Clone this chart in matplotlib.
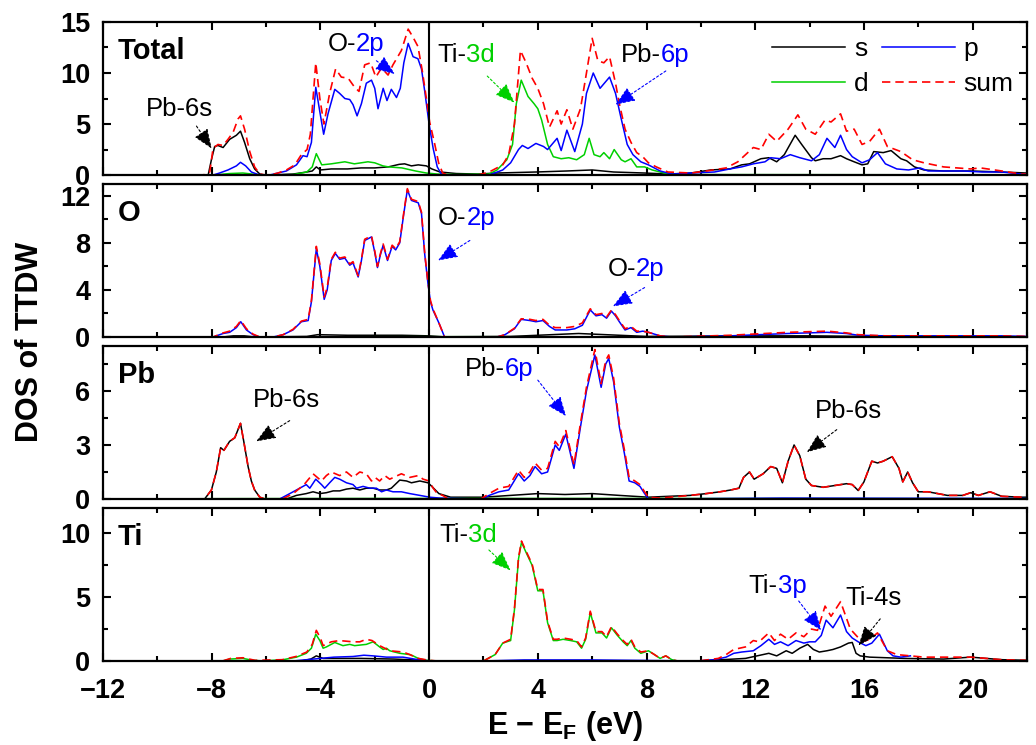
import numpy as np
import matplotlib
matplotlib.use("Agg")
import matplotlib.pyplot as plt
from matplotlib.ticker import MultipleLocator

plt.rcParams['font.family'] = ['Liberation Sans', 'DejaVu Sans']
plt.rcParams['mathtext.fontset'] = 'custom'
plt.rcParams['mathtext.rm'] = 'Liberation Sans'
plt.rcParams['mathtext.bf'] = 'Liberation Sans:bold'

# (E - EF, DOS) points
total_s = [(-12, 0), (-8.13, 0), (-8.01, 1.5), (-7.89, 2.8), (-7.77, 2.9), (-7.58, 2.7), (-7.34, 3.5),
           (-7.09, 3.9), (-6.94, 4.3), (-6.79, 3.2), (-6.6, 1.6), (-6.42, 0.6), (-6.23, 0.1), (-6.05, 0),
           (-5.9, 0), (-5.0, 0.1), (-4.5, 0.3), (-4.3, 0.4), (-4.15, 0.8), (-4.0, 0.5), (-3.6, 0.6),
           (-3.0, 0.6), (-2.5, 0.7), (-2.0, 0.7), (-1.5, 0.8), (-1.1, 1.05), (-0.9, 1.1), (-0.65, 0.9),
           (-0.4, 1.0), (-0.1, 0.9), (0.1, 0.6), (0.4, 0.3), (1.0, 0.15), (1.8, 0.1), (2.5, 0.2),
           (3.93, 0.3), (5.07, 0.4), (6.0, 0.5), (6.79, 0.3), (7.93, 0.2), (8.79, 0.1), (9.64, 0.2),
           (10.36, 0.5), (11.07, 0.6), (11.5, 1.0), (11.79, 1.1), (12.21, 1.6), (12.5, 1.7), (12.79, 1.3),
           (13.07, 2.0), (13.47, 3.9), (13.71, 3.0), (14.07, 1.7), (14.21, 1.4), (14.5, 1.6), (14.79, 1.6),
           (15.14, 1.9), (15.36, 1.6), (15.64, 1.3), (15.93, 1.0), (16.14, 1.1), (16.36, 2.3), (16.71, 2.2),
           (17.0, 2.4), (17.36, 1.6), (17.57, 1.4), (17.86, 0.8), (18.21, 0.5), (18.93, 0.4), (19.93, 0.4),
           (21.07, 0.3), (22, 0.2)]
total_p = [(-12, 0), (-7.95, 0), (-7.71, 0.2), (-7.4, 0.5), (-7.09, 0.9), (-6.94, 1.25), (-6.75, 0.9),
           (-6.54, 0.3), (-6.29, 0.05), (-5.87, 0), (-5.56, 0.2), (-5.25, 0.4), (-4.88, 1.0), (-4.64, 1.9),
           (-4.49, 1.8), (-4.33, 3.2), (-4.17, 8.6), (-4.02, 6.2), (-3.88, 4.0), (-3.72, 6.0), (-3.47, 8.4),
           (-3.29, 8.0), (-3.1, 7.5), (-2.92, 7.4), (-2.8, 6.9), (-2.65, 5.8), (-2.49, 7.0), (-2.31, 9.0),
           (-2.12, 9.3), (-2.0, 8.5), (-1.88, 6.5), (-1.69, 8.5), (-1.55, 7.3), (-1.39, 8.4), (-1.2, 7.6),
           (-1.06, 8.5), (-0.93, 11.0), (-0.77, 12.9), (-0.59, 11.6), (-0.41, 11.4), (-0.28, 10.4),
           (-0.16, 8.2), (0.0, 5.0), (0.15, 2.6), (0.3, 0.8), (0.45, 0.1), (0.6, 0), (2.21, 0), (2.71, 0.5),
           (3.0, 1.2), (3.29, 2.5), (3.43, 2.9), (3.64, 2.6), (3.93, 3.1), (4.21, 2.8), (4.36, 2.5),
           (4.71, 3.6), (4.86, 2.4), (5.07, 4.4), (5.36, 2.3), (5.64, 5.0), (5.79, 8.0), (6.04, 10.0),
           (6.29, 8.5), (6.64, 9.6), (6.86, 8.0), (7.07, 5.5), (7.29, 3.0), (7.5, 2.0), (7.79, 1.3),
           (8.07, 1.0), (8.5, 0.4), (8.93, 0.1), (9.64, 0.2), (10.5, 0.3), (11.07, 0.6), (11.5, 0.8),
           (11.93, 1.1), (12.36, 1.3), (12.57, 1.7), (12.93, 1.6), (13.29, 2.0), (13.64, 1.7), (14.07, 1.4),
           (14.36, 2.0), (14.64, 3.6), (14.93, 2.7), (15.14, 3.9), (15.36, 2.5), (15.57, 1.8), (15.93, 1.2),
           (16.21, 1.5), (16.5, 2.2), (16.79, 1.1), (17.21, 0.6), (17.64, 0.5), (18.07, 0.7), (18.36, 0.4),
           (19.64, 0.4), (20.36, 0.3), (21.07, 0.3), (21.79, 0.1), (22, 0.1)]
total_d = [(-12, 0), (-7.95, 0), (-7.34, 0.15), (-6.85, 0.2), (-6.36, 0.05), (-6.0, 0), (-5.0, 0.05),
           (-4.5, 0.3), (-4.3, 0.8), (-4.15, 2.1), (-3.95, 1.0), (-3.6, 1.1), (-3.1, 1.3), (-2.75, 1.1),
           (-2.25, 1.3), (-2.0, 1.2), (-1.7, 0.9), (-1.5, 0.8), (-1.0, 0.7), (-0.5, 0.4), (-0.1, 0.2),
           (0.3, 0.1), (1.0, 0.05), (2.2, 0.1), (2.5, 0.5), (2.86, 1.5), (3.07, 3.0), (3.21, 7.0),
           (3.39, 9.3), (3.64, 7.7), (3.86, 7.0), (4.0, 6.5), (4.14, 5.4), (4.36, 3.0), (4.57, 1.8),
           (4.86, 1.6), (5.14, 1.7), (5.43, 1.5), (5.71, 2.0), (5.89, 3.6), (6.07, 2.0), (6.29, 1.8),
           (6.43, 2.2), (6.64, 1.6), (6.81, 2.5), (7.07, 1.5), (7.21, 1.3), (7.43, 1.6), (7.64, 0.8),
           (7.93, 0.8), (8.21, 0.5), (8.64, 0.2), (9.07, 0.05), (22, 0.02)]
total_sum = [(-12, 0), (-8.32, 0), (-8.07, 0.3), (-7.95, 2.6), (-7.77, 3.0), (-7.58, 2.9), (-7.4, 3.5),
             (-7.21, 4.2), (-7.03, 5.5), (-6.94, 5.8), (-6.79, 4.5), (-6.6, 2.3), (-6.42, 0.8), (-6.23, 0.1),
             (-5.99, 0), (-5.87, 0), (-5.56, 0.2), (-5.25, 0.5), (-4.94, 1.0), (-4.7, 2.0), (-4.49, 2.5),
             (-4.37, 4.0), (-4.17, 11.0), (-4.02, 7.5), (-3.87, 5.0), (-3.66, 8.0), (-3.44, 10.4),
             (-3.23, 9.6), (-2.98, 9.5), (-2.74, 8.6), (-2.58, 8.2), (-2.37, 10.8), (-2.15, 11.0),
             (-1.96, 9.6), (-1.75, 10.5), (-1.51, 9.8), (-1.33, 10.8), (-1.02, 12.2), (-0.77, 14.3),
             (-0.59, 13.5), (-0.41, 12.6), (-0.25, 10.2), (-0.1, 7.5), (0.02, 5.2), (0.21, 3.0),
             (0.35, 1.2), (0.5, 0.2), (0.7, 0), (1.79, 0), (2.21, 0.3), (2.71, 1.0), (2.93, 2.0),
             (3.14, 5.0), (3.36, 12.2), (3.57, 11.0), (3.79, 9.5), (4.0, 8.5), (4.21, 7.0), (4.43, 4.7),
             (4.71, 6.3), (4.86, 5.0), (5.07, 6.4), (5.29, 4.5), (5.57, 6.5), (5.79, 10.0), (6.0, 13.4),
             (6.21, 11.2), (6.43, 11.0), (6.64, 11.6), (6.86, 9.0), (7.0, 7.0), (7.21, 4.5), (7.43, 3.2),
             (7.64, 2.2), (7.86, 1.8), (8.07, 1.2), (8.36, 0.8), (8.79, 0.3), (9.64, 0.2), (10.21, 0.4),
             (10.93, 0.7), (11.36, 1.3), (11.93, 2.7), (12.21, 2.5), (12.5, 4.0), (12.79, 3.3),
             (13.21, 4.5), (13.57, 5.9), (13.86, 4.5), (14.21, 4.0), (14.57, 5.4), (14.79, 5.2),
             (15.14, 6.0), (15.36, 4.3), (15.64, 4.5), (15.93, 3.0), (16.21, 3.3), (16.57, 4.5),
             (16.86, 2.8), (17.36, 2.3), (17.79, 1.5), (18.21, 1.2), (18.93, 0.8), (19.93, 0.6),
             (20.29, 0.7), (21.07, 0.4), (21.79, 0.1), (22, 0.1)]

o_s = [(-12, 0), (-7.6, 0), (-7.2, 0.1), (-6.8, 0.1), (-6.4, 0), (-4.5, 0.05), (-4.1, 0.2), (-3.0, 0.15),
       (-1.0, 0.15), (0.0, 0.1), (0.5, 0.02), (3.0, 0.05), (4.5, 0.2), (5.5, 0.3), (6.5, 0.2), (8.0, 0.05),
       (12.0, 0.1), (14.0, 0.1), (16.0, 0.05), (22, 0.02)]
o_p = [(-12, 0), (-7.95, 0), (-7.58, 0.3), (-7.34, 0.4), (-7.09, 0.8), (-6.93, 1.3), (-6.72, 0.6),
       (-6.48, 0.2), (-6.23, 0), (-5.74, 0), (-5.37, 0.2), (-5.01, 0.6), (-4.7, 1.3), (-4.45, 1.4),
       (-4.33, 3.0), (-4.15, 7.5), (-4.02, 6.0), (-3.86, 3.2), (-3.75, 4.0), (-3.6, 6.5), (-3.45, 7.1),
       (-3.29, 6.6), (-3.1, 6.7), (-2.92, 6.1), (-2.8, 6.3), (-2.61, 5.1), (-2.49, 6.5), (-2.37, 8.2),
       (-2.12, 8.5), (-2.0, 7.2), (-1.9, 5.9), (-1.79, 7.0), (-1.69, 7.8), (-1.53, 6.5), (-1.36, 7.7),
       (-1.23, 7.4), (-1.08, 8.0), (-0.93, 10.5), (-0.8, 12.5), (-0.65, 11.6), (-0.4, 11.4),
       (-0.28, 10.5), (-0.16, 7.0), (-0.04, 4.5), (0.05, 3.0), (0.14, 2.3), (0.36, 1.2), (0.57, 0),
       (2.5, 0), (2.79, 0.2), (3.14, 0.7), (3.39, 1.5), (3.71, 1.4), (3.93, 1.3), (4.19, 1.4), (4.43, 0.9),
       (4.64, 0.6), (5.07, 0.6), (5.36, 0.7), (5.64, 1.0), (5.93, 2.3), (6.14, 1.8), (6.36, 1.9),
       (6.53, 1.6), (6.71, 2.2), (6.86, 1.8), (7.0, 1.3), (7.21, 0.6), (7.43, 0.8), (7.64, 0.4),
       (7.86, 0.5), (8.07, 0.4), (8.5, 0.1), (8.93, 0), (11.07, 0.1), (13.21, 0.3), (14.64, 0.4),
       (15.36, 0.3), (15.79, 0.15), (16.79, 0.1), (21.07, 0.1), (22, 0.05)]
o_d = [(-12, 0), (-4.2, 0.02), (0, 0.03), (6, 0.02), (22, 0.0)]
o_sum = [(-12, 0), (-7.95, 0), (-7.58, 0.35), (-7.34, 0.5), (-7.09, 0.9), (-6.93, 1.4), (-6.72, 0.7),
         (-6.48, 0.25), (-6.23, 0), (-5.74, 0), (-5.37, 0.2), (-5.01, 0.65), (-4.7, 1.35), (-4.45, 1.5),
         (-4.33, 3.1), (-4.15, 7.7), (-4.02, 6.2), (-3.86, 3.4), (-3.75, 4.2), (-3.6, 6.6), (-3.45, 7.2),
         (-3.29, 6.7), (-3.1, 6.8), (-2.92, 6.2), (-2.8, 6.4), (-2.61, 5.2), (-2.49, 6.6), (-2.37, 8.3),
         (-2.12, 8.6), (-2.0, 7.3), (-1.9, 6.0), (-1.79, 7.1), (-1.69, 7.9), (-1.53, 6.6), (-1.36, 7.8),
         (-1.23, 7.5), (-1.08, 8.1), (-0.93, 10.6), (-0.8, 12.6), (-0.65, 11.7), (-0.4, 11.5),
         (-0.28, 10.6), (-0.16, 7.1), (-0.04, 4.6), (0.05, 3.1), (0.14, 2.4), (0.36, 1.2), (0.57, 0),
         (2.5, 0), (2.79, 0.2), (3.14, 0.75), (3.39, 1.55), (3.71, 1.5), (3.93, 1.4), (4.19, 1.5),
         (4.43, 1.0), (4.64, 0.8), (5.07, 0.8), (5.36, 0.9), (5.64, 1.2), (5.93, 2.4), (6.14, 1.9),
         (6.36, 2.0), (6.53, 1.7), (6.71, 2.3), (6.86, 1.9), (7.0, 1.4), (7.21, 0.7), (7.43, 0.9),
         (7.64, 0.5), (7.86, 0.5), (8.07, 0.4), (8.5, 0.1), (8.93, 0), (11.07, 0.15), (13.21, 0.4),
         (14.64, 0.5), (15.36, 0.35), (15.79, 0.2), (16.79, 0.1), (21.07, 0.1), (22, 0.05)]

pb_s = [(-12, 0), (-8.26, 0), (-8.01, 0.5), (-7.83, 1.5), (-7.67, 2.85), (-7.55, 2.7), (-7.34, 3.2),
        (-7.15, 3.4), (-6.94, 4.2), (-6.82, 3.2), (-6.66, 1.8), (-6.54, 1.0), (-6.42, 0.5), (-6.23, 0.1),
        (-6.05, 0), (-5.25, 0), (-4.88, 0.2), (-4.52, 0.3), (-4.27, 0.4), (-4.02, 0.3), (-3.78, 0.35),
        (-3.53, 0.45), (-3.29, 0.45), (-3.04, 0.55), (-2.8, 0.6), (-2.55, 0.5), (-2.31, 0.6),
        (-2.06, 0.6), (-1.82, 0.5), (-1.57, 0.5), (-1.39, 0.6), (-1.08, 1.05), (-0.83, 1.0),
        (-0.65, 0.9), (-0.34, 1.0), (-0.04, 0.9), (0.1, 0.7), (0.36, 0.3), (0.79, 0.1), (2.0, 0.1),
        (3.0, 0.2), (4.0, 0.3), (5.0, 0.25), (6.0, 0.3), (7.0, 0.2), (8.07, 0.1), (9.6, 0.2),
        (10.2, 0.3), (10.7, 0.4), (11.1, 0.5), (11.4, 0.6), (11.57, 1.2), (11.79, 1.5), (11.96, 1.1),
        (12.29, 1.4), (12.57, 1.8), (12.79, 1.7), (13.0, 0.9), (13.21, 2.1), (13.43, 3.0), (13.64, 2.4),
        (13.86, 1.1), (14.07, 0.75), (14.5, 0.65), (14.93, 0.75), (15.36, 0.85), (15.57, 0.8),
        (15.79, 0.47), (16.0, 0.95), (16.29, 2.1), (16.5, 2.0), (16.71, 2.1), (17.04, 2.35),
        (17.29, 1.7), (17.43, 0.95), (17.61, 1.5), (17.79, 0.9), (18.0, 0.4), (18.36, 0.4),
        (19.07, 0.2), (19.64, 0.2), (19.93, 0.35), (20.21, 0.2), (20.64, 0.4), (21.07, 0.15),
        (21.79, 0.1), (22, 0.1)]
pb_p = [(-12, 0), (-5.5, 0), (-5.25, 0.2), (-4.88, 0.5), (-4.52, 0.8), (-4.39, 0.6), (-4.17, 1.1),
        (-3.96, 0.8), (-3.84, 0.6), (-3.66, 0.9), (-3.47, 1.2), (-3.29, 1.1), (-3.04, 0.9), (-2.8, 0.8),
        (-2.67, 0.6), (-2.43, 0.7), (-2.18, 0.6), (-1.94, 0.6), (-1.75, 0.4), (-1.57, 0.5), (-1.33, 0.4),
        (-1.02, 0.4), (-0.71, 0.3), (-0.34, 0.2), (0.02, 0.1), (0.4, 0.05), (1.93, 0), (2.21, 0.2),
        (2.57, 0.4), (2.93, 0.5), (3.29, 1.4), (3.5, 1.0), (3.71, 1.3), (3.9, 1.8), (4.14, 1.4),
        (4.36, 1.5), (4.64, 3.0), (4.79, 2.7), (5.03, 3.6), (5.33, 1.7), (5.57, 4.0), (5.79, 6.0),
        (6.1, 8.0), (6.33, 6.2), (6.5, 7.5), (6.61, 7.8), (6.79, 6.5), (7.0, 4.0), (7.19, 2.5),
        (7.36, 1.0), (7.57, 0.9), (7.76, 0.7), (7.93, 0.3), (8.07, 0), (13.0, 0.05), (22, 0.03)]
pb_d = [(-12, 0), (-7, 0.02), (-2, 0.03), (5, 0.03), (22, 0.02)]
pb_sum = [(-12, 0), (-8.26, 0), (-8.01, 0.5), (-7.83, 1.5), (-7.67, 2.85), (-7.55, 2.7), (-7.34, 3.2),
          (-7.15, 3.4), (-6.94, 4.2), (-6.82, 3.2), (-6.66, 1.8), (-6.54, 1.0), (-6.42, 0.5), (-6.23, 0.1),
          (-6.05, 0), (-5.4, 0), (-5.0, 0.3), (-4.6, 0.8), (-4.27, 1.4), (-3.96, 1.0), (-3.78, 1.3),
          (-3.6, 1.5), (-3.29, 1.3), (-3.04, 1.5), (-2.8, 1.2), (-2.55, 1.5), (-2.31, 1.4), (-2.12, 1.0),
          (-1.99, 1.2), (-1.82, 1.0), (-1.63, 1.3), (-1.45, 1.1), (-1.02, 1.4), (-0.71, 1.2), (-0.4, 1.3),
          (-0.22, 1.1), (0.0, 1.0), (0.15, 0.6), (0.3, 0.3), (0.5, 0.2), (0.7, 0), (1.9, 0), (2.21, 0.3),
          (2.57, 0.6), (2.93, 0.7), (3.29, 1.6), (3.5, 1.2), (3.71, 1.5), (3.9, 2.0), (4.14, 1.6),
          (4.36, 1.7), (4.64, 3.2), (4.79, 2.9), (5.03, 3.8), (5.33, 1.9), (5.57, 4.2), (5.79, 6.2),
          (6.1, 8.3), (6.33, 6.4), (6.5, 7.7), (6.61, 8.0), (6.79, 6.7), (7.0, 4.2), (7.19, 2.7),
          (7.36, 1.2), (7.57, 1.0), (7.76, 0.8), (7.93, 0.4), (8.07, 0.1), (8.5, 0.05), (9.6, 0.2),
          (10.2, 0.3), (10.7, 0.4), (11.1, 0.5), (11.4, 0.6), (11.57, 1.2), (11.79, 1.5), (11.96, 1.1),
          (12.29, 1.4), (12.57, 1.8), (12.79, 1.7), (13.0, 0.9), (13.21, 2.1), (13.43, 3.0), (13.64, 2.4),
          (13.86, 1.1), (14.07, 0.75), (14.5, 0.65), (14.93, 0.75), (15.36, 0.85), (15.57, 0.8),
          (15.79, 0.47), (16.0, 0.95), (16.29, 2.1), (16.5, 2.0), (16.71, 2.1), (17.04, 2.35),
          (17.29, 1.7), (17.43, 0.95), (17.61, 1.5), (17.79, 0.9), (18.0, 0.4), (18.36, 0.4),
          (19.07, 0.2), (19.64, 0.2), (19.93, 0.35), (20.21, 0.2), (20.64, 0.4), (21.07, 0.15),
          (21.79, 0.1), (22, 0.1)]

ti_s = [(-12, 0), (-4.7, 0), (-4.35, 0.15), (-4.15, 0.4), (-3.9, 0.2), (-3.2, 0.2), (-2.5, 0.2),
        (-1.3, 0.15), (-0.2, 0.05), (0, 0), (9.93, 0), (10.79, 0.1), (11.64, 0.2), (12.07, 0.4),
        (12.5, 0.6), (12.79, 0.4), (13.14, 0.8), (13.36, 0.6), (13.64, 1.0), (13.93, 1.3), (14.14, 0.9),
        (14.36, 0.7), (14.64, 0.8), (14.86, 0.9), (15.14, 1.1), (15.43, 1.4), (15.57, 1.45),
        (15.71, 0.6), (15.86, 0.4), (16.21, 0.3), (17.5, 0.2), (18.93, 0.15), (19.93, 0.3),
        (21.07, 0.1), (22, 0.05)]
ti_p = [(-12, 0), (-5.0, 0), (-4.5, 0.1), (-4.0, 0.2), (-3.5, 0.3), (-2.8, 0.35), (-2.4, 0.45),
        (-2.06, 0.4), (-1.57, 0.3), (-0.96, 0.3), (-0.4, 0.1), (0, 0), (2.0, 0), (3.5, 0.08), (6.0, 0.08),
        (9.9, 0), (10.5, 0.1), (10.93, 0.3), (11.21, 0.6), (11.5, 0.7), (11.93, 0.8), (12.21, 1.2),
        (12.5, 1.7), (12.71, 1.3), (12.93, 1.5), (13.21, 1.2), (13.5, 1.6), (13.79, 1.4), (14.0, 1.5),
        (14.21, 1.5), (14.43, 2.0), (14.61, 3.2), (14.86, 2.6), (15.14, 3.6), (15.36, 2.3), (15.57, 1.8),
        (15.79, 1.5), (16.07, 1.2), (16.29, 1.4), (16.57, 2.1), (16.86, 0.8), (17.07, 0.4), (17.36, 0.3),
        (17.71, 0.4)]
ti_d = [(-12, 0), (-7.58, 0), (-7.34, 0.15), (-6.85, 0.2), (-6.48, 0.05), (-6.11, 0), (-5.37, 0.1),
        (-4.88, 0.3), (-4.52, 0.6), (-4.33, 1.0), (-4.17, 2.1), (-4.02, 1.6), (-3.9, 1.0), (-3.78, 1.1),
        (-3.47, 1.45), (-3.17, 1.2), (-2.92, 1.3), (-2.74, 1.2), (-2.31, 1.3), (-2.06, 1.5), (-1.82, 1.1),
        (-1.69, 0.9), (-1.57, 1.0), (-1.45, 0.8), (-1.08, 0.6), (-0.71, 0.5), (-0.59, 0.4), (-0.4, 0.2),
        (-0.1, 0.05), (0.3, 0), (2.0, 0), (2.43, 0.5), (2.71, 1.4), (3.0, 1.6), (3.14, 4.0), (3.29, 8.0),
        (3.4, 9.3), (3.57, 8.5), (3.79, 7.5), (4.0, 5.5), (4.19, 5.5), (4.36, 3.0), (4.57, 1.6),
        (4.71, 1.6), (4.93, 1.7), (5.21, 1.6), (5.43, 1.5), (5.61, 1.0), (5.76, 1.7), (5.93, 3.8),
        (6.14, 2.2), (6.36, 2.2), (6.53, 1.8), (6.71, 2.6), (6.93, 2.0), (7.14, 1.5), (7.29, 1.2),
        (7.43, 1.6), (7.57, 1.0), (7.79, 0.6), (8.07, 0.8), (8.29, 0.5), (8.5, 0.2), (8.71, 0.4),
        (8.93, 0.1), (9.14, 0), (22, 0)]
ti_sum = [(-12, 0), (-7.6, 0), (-7.3, 0.2), (-6.85, 0.25), (-6.4, 0.05), (-5.4, 0.1), (-4.9, 0.35),
          (-4.5, 0.7), (-4.3, 1.3), (-4.15, 2.4), (-4.0, 1.8), (-3.9, 1.2), (-3.6, 1.5), (-3.3, 1.6),
          (-2.8, 1.5), (-2.55, 1.5), (-2.31, 1.7), (-2.1, 1.6), (-1.82, 1.2), (-1.45, 0.8), (-0.96, 0.7),
          (-0.71, 0.5), (-0.4, 0.2), (0.0, 0.05), (0.3, 0), (2.0, 0), (2.43, 0.5), (2.71, 1.4), (3.0, 1.7),
          (3.14, 4.1), (3.29, 8.1), (3.4, 9.4), (3.57, 8.6), (3.79, 7.6), (4.0, 5.6), (4.19, 5.6),
          (4.36, 3.1), (4.57, 1.7), (4.71, 1.7), (4.93, 1.8), (5.21, 1.7), (5.43, 1.6), (5.61, 1.1),
          (5.76, 1.8), (5.93, 3.9), (6.14, 2.3), (6.36, 2.3), (6.53, 1.9), (6.71, 2.7), (6.93, 2.1),
          (7.14, 1.6), (7.29, 1.3), (7.43, 1.7), (7.57, 1.1), (7.79, 0.7), (8.07, 0.8), (8.29, 0.5),
          (8.5, 0.2), (8.71, 0.4), (8.93, 0.1), (9.14, 0), (9.93, 0), (10.64, 0.2), (10.93, 0.5),
          (11.21, 0.9), (11.64, 1.1), (11.93, 1.6), (12.14, 1.5), (12.5, 2.2), (12.71, 1.6), (12.93, 2.1),
          (13.21, 1.7), (13.5, 2.2), (13.79, 1.9), (14.07, 2.5), (14.29, 2.4), (14.57, 4.3), (14.79, 3.5),
          (15.14, 4.65), (15.5, 2.5), (15.93, 1.5), (16.21, 1.7), (16.5, 2.2), (16.86, 0.8), (17.21, 0.5),
          (18.21, 0.3), (19.93, 0.3), (21.07, 0.1), (22, 0.05)]

panel_names = ['Total', 'O', 'Pb', 'Ti']
panel_data = [(total_s, total_p, total_d, total_sum), (o_s, o_p, o_d, o_sum),
              (pb_s, pb_p, pb_d, pb_sum), (ti_s, ti_p, ti_d, ti_sum)]
ylims = [15, 13, 8.5, 12]
ymajor = [5, 4, 3, 5]
yminor = [2.5, 2, 1.5, 2.5]

colors = ['black', '#0000ff', '#00d000', '#ff0000']

fig, axes = plt.subplots(4, 1, sharex=True, figsize=(10.36, 7.45), dpi=100)
fig.subplots_adjust(left=0.0994, right=0.9913, top=0.9705, bottom=0.1128, hspace=0.058)

for i, ax in enumerate(axes):
    s, p, d, tot = [np.array(a) for a in panel_data[i]]
    ls, = ax.plot(s[:, 0], s[:, 1], color=colors[0], lw=1.1, label='s')
    ld, = ax.plot(d[:, 0], d[:, 1], color=colors[2], lw=1.1, label='d')
    lp, = ax.plot(p[:, 0], p[:, 1], color=colors[1], lw=1.1, label='p')
    lt, = ax.plot(tot[:, 0], tot[:, 1], color=colors[3], lw=1.2, ls=(0, (5, 3)), label='sum')
    ax.axvline(0, color='black', lw=1.5)
    ax.set_xlim(-12, 22)
    ax.set_ylim(0, ylims[i])
    ax.yaxis.set_major_locator(MultipleLocator(ymajor[i]))
    ax.yaxis.set_minor_locator(MultipleLocator(yminor[i]))
    ax.xaxis.set_major_locator(MultipleLocator(4))
    ax.xaxis.set_minor_locator(MultipleLocator(2))
    ax.tick_params(which='both', direction='in', top=True, right=True, width=1.5,
                   labelsize=19.5, labelright=False)
    ax.tick_params(which='major', length=6)
    ax.tick_params(which='minor', length=3.5)
    ax.tick_params(axis='y', which='major', pad=9)
    ax.tick_params(axis='x', which='major', pad=12)
    for lab in ax.get_xticklabels() + ax.get_yticklabels():
        lab.set_fontweight('bold')
    for sp in ax.spines.values():
        sp.set_linewidth(1.6)
    ax.text(0.016, 0.81, panel_names[i], transform=ax.transAxes,
            fontsize=21, fontweight='bold', va='center', ha='left')
    if i == 0:
        ax.legend(handles=[ls, ld, lp, lt], ncol=2, loc='upper right', bbox_to_anchor=(1.0, 0.985),
                  frameon=False, fontsize=19, handlelength=2.75, handletextpad=0.35,
                  columnspacing=0.5, labelspacing=0.4, borderaxespad=0.1)

ax_x = axes[-1]
ax_x.set_xticks([-12, -8, -4, 0, 4, 8, 12, 16, 20])
for lab in ax_x.get_xticklabels():
    lab.set_fontweight('bold')


def label(ax, x, y, first, second, color):
    t = ax.text(x, y, first, fontsize=18.5, color='black', ha='left', va='center')
    if second:
        ax.annotate(second, xy=(1, 0), xycoords=t, fontsize=18.5, color=color, ha='left', va='bottom')


def arrow(ax, tail, head, color):
    ax.annotate('', xy=head, xytext=tail,
                arrowprops=dict(arrowstyle='-|>,head_length=1.0,head_width=0.4', color=color,
                                lw=0.8, ls=(0, (2, 2)), shrinkA=0, shrinkB=0, mutation_scale=12))


a0, a1, a2, a3 = axes
label(a0, -10.42, 6.5, 'Pb-6s', '', 'black')
arrow(a0, (-8.56, 4.8), (-8.0, 2.6), 'black')
label(a0, -3.73, 12.8, 'O-', '2p', '#0000ff')
arrow(a0, (-1.94, 11.2), (-1.26, 9.9), '#0000ff')
label(a0, 0.29, 11.8, 'Ti-', '3d', '#00d000')
arrow(a0, (2.14, 9.7), (3.14, 7.1), '#00d000')
label(a0, 7.07, 11.8, 'Pb-', '6p', '#0000ff')
arrow(a0, (8.71, 10.2), (6.86, 6.9), '#0000ff')

label(a1, 0.33, 10.1, 'O-', '2p', '#0000ff')
arrow(a1, (1.5, 8.2), (0.33, 6.5), '#0000ff')
label(a1, 6.57, 5.8, 'O-', '2p', '#0000ff')
arrow(a1, (7.93, 4.2), (6.76, 2.6), '#0000ff')

label(a2, -6.5, 5.5, 'Pb-6s', '', 'black')
arrow(a2, (-5.13, 4.35), (-6.36, 3.2), 'black')
label(a2, 1.33, 7.2, 'Pb-', '6p', '#0000ff')
arrow(a2, (4.0, 6.6), (5.04, 4.6), '#0000ff')
label(a2, 14.2, 4.9, 'Pb-6s', '', 'black')
arrow(a2, (15.0, 3.85), (13.9, 2.6), 'black')

label(a3, 0.36, 9.9, 'Ti-', '3d', '#00d000')
arrow(a3, (2.2, 8.7), (3.0, 7.1), '#00d000')
label(a3, 11.76, 5.9, 'Ti-', '3p', '#0000ff')
arrow(a3, (13.6, 4.7), (14.43, 2.4), '#0000ff')
label(a3, 15.3, 4.9, 'Ti-4s', '', 'black')
arrow(a3, (16.6, 3.3), (15.8, 1.2), 'black')

fig.text(0.029, 0.5416, 'DOS of TTDW', rotation=90, fontsize=22, fontweight='bold',
         ha='center', va='center')
fig.text(0.5454, 0.026, r'E − E$_\mathbf{F}$ (eV)', fontsize=22, fontweight='bold',
         ha='center', va='center')

fig.savefig('out.png', dpi=100)
